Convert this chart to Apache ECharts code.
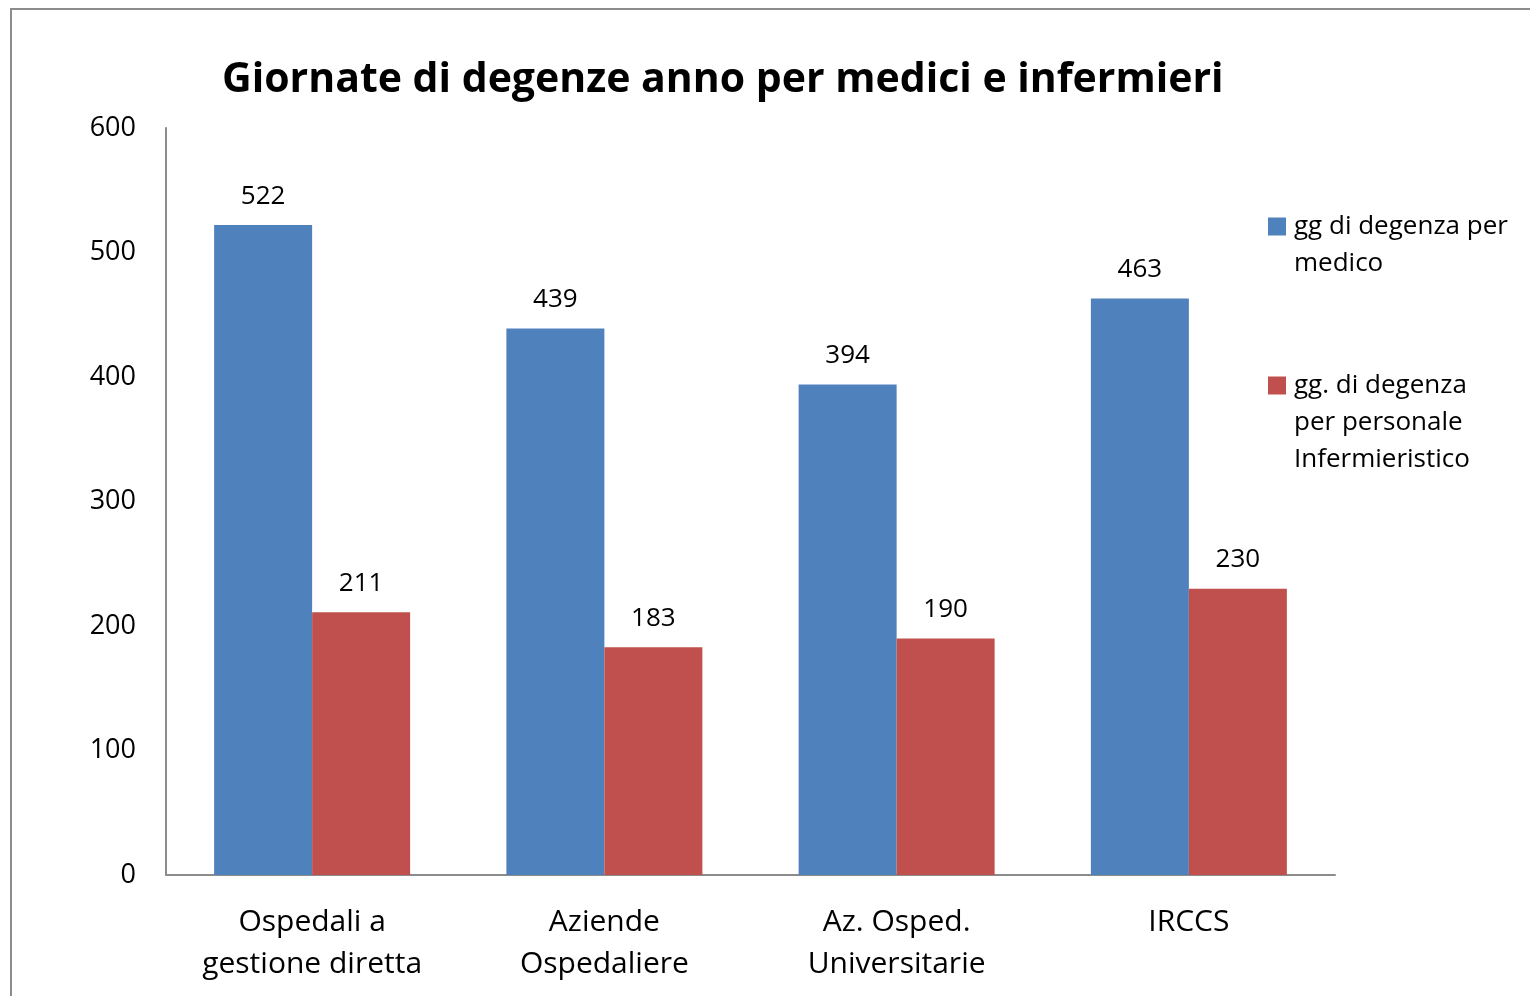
<!DOCTYPE html>
<html>
<head>
<meta charset="utf-8">
<script src="https://cdn.jsdelivr.net/npm/echarts@6/dist/echarts.min.js"></script>
<style>
  html, body {margin: 0; padding: 0; background: #fff;}
  #main {width: 1530px; height: 996px;}
</style>
</head>
<body>
<div id="main"></div>
<script>
const categories = ['Ospedali a\ngestione diretta', 'Aziende\nOspedaliere', 'Az. Osped.\nUniversitarie', 'IRCCS'];
const seriesNames = ['gg di degenza per\nmedico', 'gg. di degenza\nper personale\nInfermieristico'];
const medici = [522, 439, 394, 463];
const infermieri = [211, 183, 190, 230];
const yTicks = [0, 100, 200, 300, 400, 500, 600];

const font = '"Open Sans", sans-serif';
const chart = echarts.init(document.getElementById('main'));

// legend text is centred on its icon, so pad with blank lines above
// to bring the icon level with the first line
function legendLabel(name) {
  const lines = name.split('\n').length;
  return '\n'.repeat(lines - 1) + name;
}

chart.setOption({
  backgroundColor: '#fff',
  animation: false,
  textStyle: {fontFamily: font, color: '#000'},
  graphic: [{
    type: 'rect',
    shape: {x: 11, y: 9, width: 1600, height: 1100},
    style: {fill: 'none', stroke: '#8c8c8c', lineWidth: 2},
    silent: true
  }],
  title: {
    text: 'Giornate di degenze anno per medici e infermieri',
    left: 217,
    top: 55,
    textStyle: {fontFamily: font, fontSize: 41, fontWeight: 'bold', color: '#000'}
  },
  legend: {
    orient: 'vertical',
    left: 1268,
    top: 171,
    padding: 0,
    itemWidth: 18,
    itemHeight: 18,
    itemGap: 11,
    icon: 'rect',
    formatter: legendLabel,
    textStyle: {fontFamily: font, fontSize: 26, lineHeight: 37, color: '#000', padding: [0, 0, 0, 3]},
    data: seriesNames
  },
  grid: {left: 166, right: 195, top: 128, bottom: 121},
  xAxis: {
    type: 'category',
    data: categories,
    axisTick: {show: false},
    axisLine: {lineStyle: {color: '#8c8c8c', width: 2}},
    axisLabel: {fontFamily: font, fontSize: 30, lineHeight: 42, color: '#000', margin: 26, interval: 0}
  },
  yAxis: {
    type: 'value',
    min: yTicks[0],
    max: yTicks[yTicks.length - 1],
    interval: 100,
    axisLine: {show: true, lineStyle: {color: '#8c8c8c', width: 2}},
    axisTick: {show: false},
    splitLine: {show: false},
    axisLabel: {fontFamily: font, fontSize: 27, color: '#000', margin: 30, padding: [5, 0, 0, 0]}
  },
  series: [{
    name: seriesNames[0],
    type: 'bar',
    data: medici,
    barWidth: 98,
    barGap: '0%',
    itemStyle: {color: '#4F81BD'},
    label: {show: true, position: 'top', distance: 16, fontFamily: font, fontSize: 26, color: '#000'}
  }, {
    name: seriesNames[1],
    type: 'bar',
    data: infermieri,
    barWidth: 98,
    barGap: '0%',
    itemStyle: {color: '#C0504D'},
    label: {show: true, position: 'top', distance: 16, fontFamily: font, fontSize: 26, color: '#000'}
  }]
});
</script>
</body>
</html>
